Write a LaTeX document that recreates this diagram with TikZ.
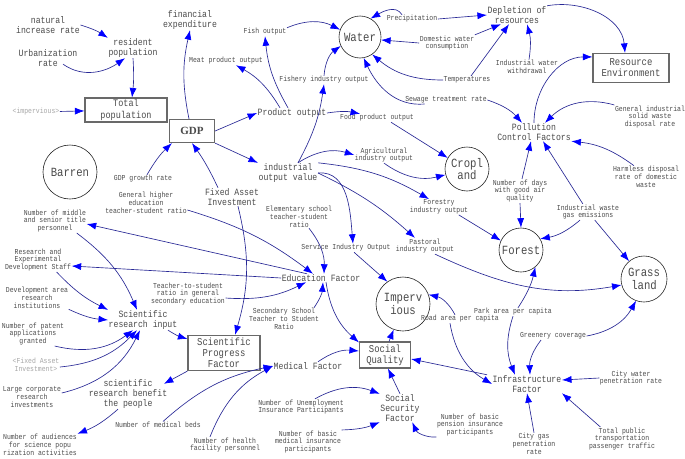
\documentclass[tikz,border=0pt]{standalone}
\usepackage{fontspec}
\setmainfont{Liberation Serif}
\newfontfamily\monof[FakeStretch=0.85]{Liberation Mono}
\usetikzlibrary{arrows.meta}
\definecolor{linec}{RGB}{40,40,150}
\definecolor{txtc}{RGB}{75,75,75}
\definecolor{boxc}{RGB}{105,105,105}
\newcommand\lblS{\monof\fontsize{7.6}{7.8}\selectfont}
\newcommand\lblM{\monof\fontsize{9.6}{10}\selectfont}
\newcommand\lblB{\monof\fontsize{10.5}{11}\selectfont}
\newcommand\lblT{\monof\fontsize{10}{12.5}\selectfont}
\newcommand\lblC{\monof\fontsize{12.5}{12.5}\selectfont}
\newcommand\lblG{\rmfamily\bfseries\fontsize{11}{12}\selectfont}
\tikzset{
 ss/.style={font=\lblS, align=center, text=txtc, inner sep=0.5pt},
 ms/.style={font=\lblM, align=center, text=txtc, inner sep=0.5pt},
 gs/.style={font=\lblS, align=center, text=black!35, inner sep=0.5pt},
 bx/.style={draw=boxc, line width=1.2pt, font=\lblB, align=center, text=txtc, inner sep=1pt},
 cs/.style={circle, draw=black!85, line width=0.6pt, font=\lblC, align=center, inner sep=0pt, text=txtc},
 ar/.style={draw=linec, line width=0.65pt, -{Latex[length=9.5pt,width=7pt,color=blue]}},
}
\begin{document}
\begin{tikzpicture}[x=1pt,y=1pt]
\fill[white] (0,0) rectangle (685,-458);
\useasboundingbox (0,0) rectangle (685,-458);
% nodes
\node[ms] (nat) at (48,-25) {natural\\increase rate};
\node[ms] (res) at (133,-48) {resident\\population};
\node[ms] (urb) at (48,-58) {Urbanization\\rate};
\node[bx, font=\lblT, minimum width=82pt, minimum height=23pt] (tot) at (126,-110) {Total\\population};
\node[gs] (imp2) at (36,-112) {<impervious>};
\node[bx, font=\lblG, minimum width=45pt, minimum height=23pt] (gdp) at (192,-131) {GDP};
\node[ms] (fin) at (190,-20) {financial\\expenditure};
\node[ss] (meat) at (226,-61) {Meat product output};
\node[ss] (fish) at (265,-32) {Fish output};
\node[cs, minimum size=42pt] (water) at (360,-37) {Water};
\node[ss] (precip) at (412,-19) {Precipitation};
\node[ms] (dep) at (517,-15) {Depletion of\\resources};
\node[ss] (dom) at (447,-43) {Domestic water\\consumption};
\node[ss] (temp) at (467,-80) {Temperatures};
\node[ss] (iww) at (527,-67) {Industrial water\\withdrawal};
\node[bx, minimum width=76pt, minimum height=29pt] (renv) at (631,-68) {Resource\\Environment};
\node[ss] (sew) at (446,-100) {Sewage treatment rate};
\node[ms] (poll) at (534,-132) {Pollution\\Control Factors};
\node[ss] (gisw) at (650,-117) {General industrial\\solid waste\\disposal rate};
\node[ss] (fishery) at (324,-80) {Fishery industry output};
\node[ms] (prod) at (292,-113) {Product output};
\node[ss] (food) at (377,-118) {Food product output};
\node[cs, minimum size=44pt] (crop) at (467,-169) {Cropl\\and};
\node[ms] (ind) at (288,-173) {industrial\\output value};
\node[ss] (agri) at (384,-155) {Agricultural\\industry output};
\node[ss] (gdpgr) at (143,-179) {GDP growth rate};
\node[cs, minimum size=54pt] (barren) at (70,-172) {Barren};
\node[ms] (fai) at (232,-197) {Fixed Asset\\Investment};
\node[ss] (ghe) at (146,-203) {General higher\\education\\teacher-student ratio};
\node[ss] (nmst) at (55,-221) {Number of middle\\and senior title\\personnel};
\node[ss] (elem) at (299,-217) {Elementary school\\teacher-student\\ratio};
\node[ss] (forestry) at (439,-207) {Forestry\\industry output};
\node[ss] (days) at (520,-191) {Number of days\\with good air\\quality};
\node[ss] (harm) at (646,-177) {Harmless disposal\\rate of domestic\\waste};
\node[ss] (iwge) at (588,-212) {Industrial waste\\gas emissions};
\node[cs, minimum size=44pt] (forest) at (521,-250) {Forest};
\node[ss] (past) at (425,-246) {Pastoral\\industry output};
\node[ss] (serv) at (346,-248) {Service Industry Output};
\node[ss] (rds) at (38,-260) {Research and\\Experimental\\Development Staff};
\node[ms] (edu) at (321,-278) {Education Factor};
\node[cs, minimum size=46pt] (grass) at (644,-279) {Grass\\land};
\node[ss] (dev) at (37,-298) {Development area\\research\\institutions};
\node[ss] (tts) at (188,-294) {Teacher-to-student\\ratio in general\\secondary education};
\node[cs, minimum size=54pt] (imperv) at (403,-304) {Imperv\\ious};
\node[ss] (road) at (460,-319) {Road area per capita};
\node[ss] (park) at (513,-312) {Park area per capita};
\node[ms] (sri) at (143,-320) {Scientific\\research input};
\node[ss] (ssr) at (284,-319) {Secondary School\\Teacher to Student\\Ratio};
\node[ss] (patent) at (33,-334) {Number of patent\\applications\\granted};
\node[bx, minimum width=72pt, minimum height=35pt] (spf) at (224,-353) {Scientific\\Progress\\Factor};
\node[bx, minimum width=51pt, minimum height=26pt] (sq) at (385,-355) {Social\\Quality};
\node[ss] (green) at (553,-336) {Greenery coverage};
\node[ms] (med) at (308,-366) {Medical Factor};
\node[gs] (fai2) at (36,-365) {<Fixed Asset\\Investment>};
\node[ms] (infra) at (527,-384) {Infrastructure\\Factor};
\node[ss] (cwp) at (631,-378) {City water\\penetration rate};
\node[ss] (lcri) at (32,-397) {Large corporate\\research\\investments};
\node[ms] (srb) at (128,-394) {scientific\\research benefit\\the people};
\node[ss] (unemp) at (301,-407) {Number of Unemployment\\Insurance Participants};
\node[ms] (ssf) at (400,-408) {Social\\Security\\Factor};
\node[ss] (pens) at (470,-425) {Number of basic\\pension insurance\\participants};
\node[ss] (beds) at (158,-425) {Number of medical beds};
\node[ss] (bmed) at (308,-442) {Number of basic\\medical insurance\\participants};
\node[ss] (health) at (225,-445) {Number of health\\facility personnel};
\node[ss] (aud) at (40,-445) {Number of audiences\\for science popu\\rization activities};
\node[ss] (gas) at (534,-444) {City gas\\penetration\\rate};
\node[ss] (tpt) at (622,-439) {Total public\\transportation\\passenger traffic};
% connectors
\draw[ar] (nat.east) to[bend left=8] (res.north west);
\draw[ar] ([xshift=-15pt,yshift=3pt]urb.south east) to[out=-35,in=215] ([xshift=-8pt]res.south);
\draw[ar] (res.south) to[bend left=5] ([xshift=6pt]tot.north);
\draw[ar] (imp2) -- (tot);
\draw[ar] ([xshift=-3pt]gdp.north) to[bend left=12] (fin.south);
\draw[ar] (gdp.east) -- (prod.west);
\draw[ar] (gdp.south east) -- (ind.north west);
\draw[ar] ([xshift=4pt]gdpgr.north) to[bend left=8] ([xshift=3pt]gdp.south west);
\draw[ar] ([xshift=-14pt]fai.north) to[bend right=5] (gdp.south);
\draw[ar] ([xshift=-12pt]prod.north) to[bend right=15] ([xshift=10pt]meat.south);
\draw[ar] ([xshift=-4pt]prod.north) to[bend left=12] (fish.south);
\draw[ar] (prod.east) to[bend left=10] ([xshift=-17pt]food.north);
\draw[ar] (fish.north east) to[bend left=25] (water.160);
\draw[ar] ([xshift=10pt]ind.north) to[bend right=10] (fishery.south);
\draw[ar] (fishery.north) to[bend left=25] (water.205);
\draw[ar] ([xshift=-10pt]precip.north) to[out=120,in=30] (water.60);
\draw[ar] (precip.east) -- (dep.west);
\draw[ar] (dom.west) -- (water.-8);
\draw[ar] (dom.north east) -- ([xshift=14pt]dep.south west);
\draw[ar] (temp.west) to[bend left=20] (water.-55);
\draw[ar] ([xshift=4pt]temp.north) -- ([xshift=-8pt]dep.south);
\draw[ar] ([xshift=2pt]iww.north) to[bend right=12] ([xshift=10pt]dep.south);
\draw[ar] (dep.north east) to[out=10,in=95] ([xshift=-6pt]renv.north);
\draw[ar] (sew.east) to[bend left=15] ([xshift=-12pt]poll.north);
\draw[ar] ([xshift=20pt]sew.south west) to[out=185,in=-65] (water.-80);
\draw[ar] (poll.north) to[out=90,in=180] ([yshift=-4pt]renv.north west);
\draw[ar] (gisw.north west) to[bend right=30] ([xshift=11pt]poll.north);
\draw[ar] ([xshift=-12pt]harm.north) to[bend right=15] (poll.south east);
\draw[ar] ([xshift=2pt]days.north) -- ([xshift=-3pt]poll.south);
\draw[ar] (days.south) -- (forest.north);
\draw[ar] (iwge) -- ([xshift=9pt]poll.south);
\draw[ar] (iwge) -- (grass);
\draw[ar] ([xshift=-8pt]iwge.south) to[bend left=15] (forest.30);
\draw[ar] ([xshift=14pt]food.south) -- (crop.150);
\draw[ar] ([xshift=10pt]ind.north) to[bend left=25] (agri.west);
\draw[ar] (agri.south) to[bend right=25] (crop.195);
\draw[ar] (ind.north east) to[bend left=12] ([xshift=-10pt]forestry.north);
\draw[ar] (ind.east) to[bend left=8] ([xshift=-10pt]past.north);
\draw[ar] (ind.east) to[out=5,in=95] ([xshift=7pt]serv.north);
\draw[ar] ([xshift=-10pt]forestry.south east) -- (forest.155);
\draw[ar] ([xshift=8pt]serv.south) -- (imperv.125);
\draw[ar] ([xshift=10pt]past.south) to[out=-25,in=190] (grass.195);
\draw[ar] ([xshift=10pt]elem.south) to[bend left=20] ([xshift=3pt]edu.north);
\draw[ar] ([yshift=-7pt]ghe.east) to[bend left=10] ([xshift=-8pt]edu.north);
\draw[ar] ([xshift=-14pt]edu.north) -- ([yshift=-3pt]nmst.east);
\draw[ar] (edu.west) -- ([yshift=-6pt]rds.east);
\draw[ar] ([yshift=-4pt]tts.east) to[bend right=15] ([xshift=-15pt]edu.south);
\draw[ar] ([xshift=30pt]ssr.north) to[bend right=15] ([xshift=2pt]edu.south);
\draw[ar] ([xshift=5pt]edu.south) to[bend right=20] ([yshift=-1pt]sq.north west);
\draw[ar] ([xshift=-10pt]nmst.south east) to[bend left=15] ([xshift=-6pt]sri.north);
\draw[ar] ([xshift=-15pt]rds.south east) to[bend right=10] (sri.north west);
\draw[ar] (dev.south east) to[bend right=10] (sri.west);
\draw[ar] ([xshift=-10pt]patent.south east) to[bend right=25] ([xshift=-10pt]sri.south);
\draw[ar] ([yshift=-2pt]fai2.east) to[bend right=20] ([xshift=-6pt]sri.south);
\draw[ar] ([yshift=4pt]lcri.east) to[bend right=25] ([xshift=-3pt]sri.south);
\draw[ar] ([xshift=-10pt]sri.south east) to[bend right=8] ([yshift=-4pt]spf.north west);
\draw[ar] ([xshift=6pt]fai.south) to[bend left=15] ([xshift=11pt]spf.north);
\draw[ar] (spf.south west) -- ([xshift=-4pt,yshift=-5pt]srb.north east);
\draw[ar] ([xshift=-10pt]srb.south) to[bend left=10] (aud.north east);
\draw[ar] ([xshift=5pt]beds.north) to[bend left=15] (med.west);
\draw[ar] ([xshift=-15pt]health.north) to[bend left=20] (med.west);
\draw[ar] ([xshift=10pt]med.north) to[bend left=20] ([yshift=4pt]sq.west);
\draw[ar] ([xshift=14pt]unemp.north) to[bend left=25] (ssf.north west);
\draw[ar] (bmed.north east) to[bend right=10] (ssf.south west);
\draw[ar] (pens.south west) to[bend left=35] ([xshift=-8pt]ssf.south east);
\draw[ar] (ssf.north) -- ([xshift=3pt]sq.south);
\draw[ar] ([xshift=4pt]sq.north) -- (imperv.250);
\draw[ar] ([xshift=-5pt]infra.north west) -- ([yshift=-4pt]sq.east);
\draw[ar] ([xshift=-5pt]road.north) to[bend right=25] (imperv.20);
\draw[ar] ([xshift=-10pt]road.south) to[bend right=25] (infra.west);
\draw[ar] ([xshift=5pt]park.north) to[bend right=10] (forest.-50);
\draw[ar] (park.south) to[bend right=20] ([xshift=-12pt]infra.north);
\draw[ar] (green.east) to[bend right=25] (grass.-110);
\draw[ar] ([xshift=-12pt]green.south) to[bend right=20] ([xshift=3pt]infra.north);
\draw[ar] (cwp.west) -- ([yshift=4pt]infra.east);
\draw[ar] (gas.north) -- (infra.south);
\draw[ar] ([xshift=12pt]tpt.north west) -- (infra.south east);
\end{tikzpicture}
\end{document}
